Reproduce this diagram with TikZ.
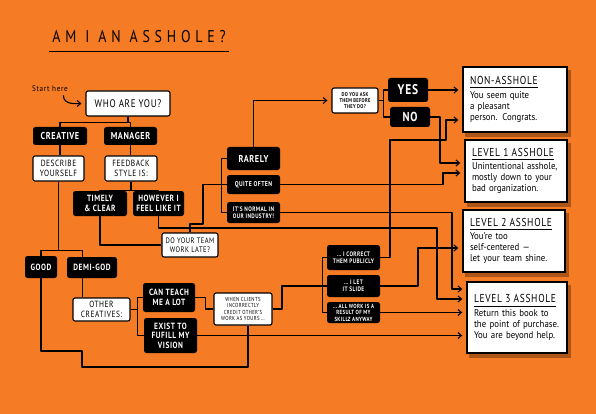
\documentclass[tikz,border=0pt]{standalone}
\usepackage{fontspec}
\setmainfont{PT Sans}
\newfontfamily\boxfont[FakeStretch=0.82, LetterSpace=6, Ligatures=TeX]{PT Sans}
\newfontfamily\handfont[FakeStretch=0.9, Ligatures=TeX]{PT Sans}
\usetikzlibrary{arrows.meta, positioning, calc, patterns, backgrounds}

\definecolor{bgorange}{HTML}{F57B25}

\newcommand\fs[2]{\boxfont\fontsize{#1}{#2}\selectfont}
\newcommand\restitle[1]{{\boxfont\addfontfeature{LetterSpace=6}\fontsize{11.5}{12}\selectfont
  \setlength\arrayrulewidth{0.9pt}\begin{tabular}{@{}l@{}}#1\\[-1pt]\hline\end{tabular}}\\[2pt]}

\tikzset{
  blk/.style={fill=black, text=white, rounded corners=2.5pt, align=center, inner sep=1pt},
  wht/.style={fill=white, draw=black, line width=1.1pt, rounded corners=2pt, align=center, inner sep=1pt},
  result/.style={fill=white, draw=black, line width=1.4pt, align=left, inner xsep=7pt, inner ysep=3pt,
    text width=#1, font=\handfont\fontsize{9.8}{11}\selectfont},
  dims/.style 2 args={minimum width=#1, minimum height=#2},
  link/.style={line width=1.1pt, line join=round},
  arr/.style={link, -{Straight Barb[length=3.5pt, width=6pt]}, shorten >=4pt},
}

\begin{document}
\begin{tikzpicture}[x=1pt, y=-1pt]
  \useasboundingbox (0,0) rectangle (596,414);

  % Title
  \node[font=\fs{17}{17}\addfontfeature{LetterSpace=28}] (title) at (139,37) {AM\hspace{9pt}I\hspace{9pt}AN\hspace{9pt}ASSHOLE?};
  \draw[link] ([yshift=-5pt]title.south west) -- ([yshift=-5pt]title.south east);

  % Start
  \node[font=\handfont\fontsize{8}{8}\selectfont\addfontfeature{LetterSpace=8}] (start) at (50,89) {Start here};
  \node[wht, dims={84pt}{25pt}, font=\fs{11}{12}] (who) at (128,103.5) {WHO ARE YOU?};

  % Creative side
  \node[blk, dims={54pt}{18pt}, font=\fs{10}{11}\bfseries] (creative) at (60,136) {CREATIVE};
  \node[wht, dims={51pt}{25pt}, font=\fs{9}{9.5}] (describe) at (58.5,168.5) {DESCRIBE\\YOURSELF};
  \node[blk, dims={32pt}{22pt}, font=\fs{9}{10}\bfseries] (good) at (41,267) {GOOD};
  \node[blk, dims={50pt}{21pt}, font=\fs{9}{10}\bfseries] (demigod) at (92,267.5) {DEMI-GOD};
  \node[wht, dims={57pt}{23pt}, font=\fs{9}{9.5}] (other) at (101.5,309.5) {OTHER\\CREATIVES:};
  \node[blk, dims={52pt}{29pt}, font=\fs{9}{10}\bfseries] (canteach) at (169,297.5) {CAN TEACH\\ME A LOT};
  \node[blk, dims={53pt}{35pt}, font=\fs{9}{9.5}\bfseries] (exist) at (170.5,335.5) {EXIST TO\\FUFILL MY\\VISION};
  \node[wht, dims={58pt}{32pt}, font=\fs{5.8}{6.4}] (when) at (243,309) {WHEN CLIENTS\\INCORRECTLY\\CREDIT OTHER'S\\WORK AS YOURS \ldots};
  \node[blk, dims={53pt}{25pt}, font=\fs{6.5}{7}\bfseries] (correct) at (353.5,257.5) {\ldots\ I CORRECT\\THEM PUBLICLY};
  \node[blk, dims={53pt}{22pt}, font=\fs{6.5}{7}\bfseries] (slide) at (353.5,286) {\ldots\ I LET\\IT SLIDE};
  \node[blk, dims={53pt}{21pt}, font=\fs{6}{6.4}\bfseries] (allwork) at (353.5,312.5) {\ldots\ ALL WORK IS A\\RESULT OF MY\\SKILLZ ANYWAY};

  % Manager side
  \node[blk, dims={53pt}{18pt}, font=\fs{10}{11}\bfseries] (manager) at (130.5,136) {MANAGER};
  \node[wht, dims={52pt}{25pt}, font=\fs{9}{9.5}] (feedback) at (131,168.5) {FEEDBACK\\STYLE IS:};
  \node[blk, dims={54pt}{25pt}, font=\fs{9}{9.5}\bfseries] (timely) at (100,203.5) {TIMELY\\\& CLEAR};
  \node[blk, dims={51pt}{25pt}, font=\fs{9}{9.5}\bfseries] (however) at (158.5,203.5) {HOWEVER I\\FEEL LIKE IT};
  \node[wht, dims={56pt}{24pt}, font=\fs{8}{8.5}] (doteam) at (190,245) {DO YOUR TEAM\\WORK LATE?};
  \node[blk, dims={53pt}{23pt}, font=\fs{10}{11}\bfseries] (rarely) at (253.5,158.5) {RARELY};
  \node[blk, dims={53pt}{19pt}, font=\fs{7}{8}\bfseries] (quite) at (253.5,184.5) {QUITE OFTEN};
  \node[blk, dims={53pt}{21pt}, font=\fs{6.5}{7}\bfseries] (normal) at (253.5,212.5) {IT'S NORMAL IN\\OUR INDUSTRY!};
  \node[wht, dims={46pt}{25pt}, font=\fs{5.5}{6}\bfseries] (ask) at (355,100.5) {DO YOU ASK\\THEM BEFORE\\THEY DO?};
  \node[blk, dims={40pt}{24pt}, font=\fs{14}{14}\bfseries] (yes) at (408,90) {YES};
  \node[blk, dims={40pt}{20pt}, font=\fs{13}{13}\bfseries] (no) at (410,117) {NO};

  % Results
  \node[result=90pt, dims={104pt}{65pt}] (nonass) at (515,99.5)
    {\restitle{NON-ASSHOLE}You seem quite\\a pleasant\\person. Congrats.};
  \node[result=88pt, dims={102pt}{62pt}] (lev1) at (516,171)
    {\restitle{LEVEL 1 ASSHOLE}Unintentional asshole,\\mostly down to your\\bad organization.};
  \node[result=88pt, dims={102pt}{62pt}] (lev2) at (514,241)
    {\restitle{LEVEL 2 ASSHOLE}You're too\\self-centered ---\\let your team shine.};
  \node[result=86pt, dims={100pt}{71pt}] (lev3) at (517,317.5)
    {\restitle{LEVEL 3 ASSHOLE}Return this book to\\the point of purchase.\\You are beyond help.};

  % Background and halftone shadows
  \begin{scope}[on background layer]
    \fill[bgorange] (0,0) rectangle (596,414);
    \foreach \r in {nonass, lev1, lev2, lev3}
      \fill[black, opacity=0.3] ([shift={(3pt,-4pt)}]\r.south west) rectangle ([shift={(3pt,-4pt)}]\r.north east);
  \end{scope}

  % Connectors
  \draw[arr] ([xshift=-8pt]start.south east) .. controls +(0,10) and +(-8,0) .. (who.west);
  \draw[link] (who.south) -- ++(0,6) -| (creative.north);
  \draw[link] (who.south) -- ++(0,6) -| (manager.north);
  \draw[link] (creative.south) -- (creative.south |- describe.north);
  \draw[link] (manager.south) -- (manager.south |- feedback.north);
  \draw[link] (feedback.south) -- ++(0,9) -| (timely.north);
  \draw[link] (feedback.south) -- ++(0,9) -| (however.north);
  \draw[link] (describe.south) -- ++(0,69) -| (good.north);
  \coordinate (dg) at ([xshift=16pt]demigod.south west);
  \draw[link] (describe.south) -- ++(0,69) -| (dg |- demigod.north);
  \draw[link] (dg) -- (dg |- other.north);
  \draw[link] (other.east) -- ++(7,0) |- (canteach.west);
  \draw[link] (other.east) -- ++(7,0) |- (exist.west);
  \draw[link] (canteach.east) -- ++(10,0) |- (when.west);
  \draw[link] (good.south) |- (82,351) -- (82,367) -| ([xshift=5pt]when.south);
  \draw[arr] (exist.east) -- (exist.east -| lev3.west);

  \draw[link] (timely.south) |- (doteam.west);
  \draw[arr] (however.south) |- (437,228) |- (lev3.west |- 0,299);
  \draw[link] (doteam.north) |- (203,224) |- (quite.west);
  \draw[link] (rarely.west) -- ++(-5,0) |- (normal.west);
  \draw[arr] (rarely.north) |- (ask.west);
  \draw[arr] (quite.east) -| (443,173) -- (lev1.west |- 0,173);
  \draw[arr] (normal.east) -| (452,289) -- (lev3.west |- 0,289);
  \draw[link] (ask.east) -- ++(5,0) |- (yes.west);
  \draw[link] (ask.east) -- ++(5,0) |- (no.west);
  \draw[arr] (yes.east) -- (yes.east -| nonass.west);
  \draw[arr] (no.east) -| (440,163) -- (lev1.west |- 0,163);

  \draw[link] (when.east) -| (282,286) -- (slide.west);
  \draw[link] (correct.west) -- ++(-4,0) |- (allwork.west);
  \draw[arr] (correct.east) -| (390,140) -| (446,120) -- (nonass.west |- 0,120);
  \draw[arr] (slide.east) -| (418,248) -- (lev2.west |- 0,248);
  \draw[arr] (allwork.east) -- (allwork.east -| lev3.west);
\end{tikzpicture}
\end{document}
